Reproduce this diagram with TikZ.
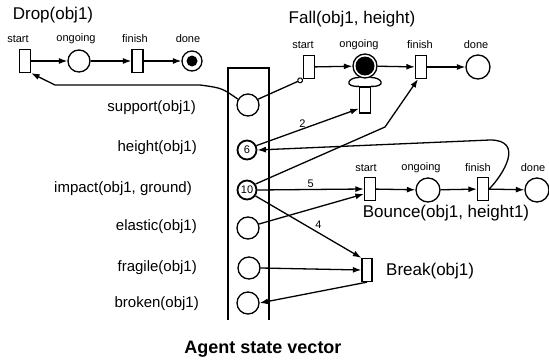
\documentclass[tikz,border=0pt]{standalone}
\usepackage{fontspec}
\setmainfont{Liberation Sans}
\usetikzlibrary{arrows.meta,calc}
\begin{document}
\begin{tikzpicture}[x=1pt,y=-1pt,
  lw/.style={line width=1.3pt},
  trans/.style={draw,lw,minimum width=11pt,minimum height=23pt,inner sep=0pt},
  place/.style={draw,circle,lw,minimum size=22pt,inner sep=0pt},
  bplace/.style={draw,circle,line width=1.8pt,minimum size=19pt,inner sep=0pt,font=\fontsize{11}{12}\selectfont},
  ttl/.style={font=\fontsize{17}{19}\selectfont,inner sep=0pt},
  sml/.style={font=\fontsize{11}{12}\selectfont,inner sep=0pt},
  vlab/.style={font=\fontsize{15}{17}\selectfont,inner sep=0pt,anchor=east},
  lbl/.style={font=\fontsize{11}{12}\selectfont,inner sep=1pt},
  arr/.style={lw,-{Latex[length=8.5pt,width=6pt]}},
  inh/.style={lw,-{Circle[open,length=6pt,width=6pt,line width=1.1pt]}},
  plain/.style={lw}
]
\useasboundingbox (0,0) rectangle (549,364);

% ---------- Drop ----------
\node[ttl] (tdrop) at (53,15) {Drop(obj1)};
\node[sml] (ldstart) at (18,39) {start};
\node[sml] (ldong) at (76,39) {ongoing};
\node[sml] (ldfin) at (135,39) {finish};
\node[sml] (lddone) at (188,39) {done};
\node[trans] (dstart) at (25,61) {};
\node[place] (dong) at (79,61) {};
\node[trans] (dfin) at (137.5,61) {};
\node[place,minimum size=20pt] (ddone) at (192,61) {};
\fill (ddone.center) circle (5.5pt);
\draw[arr] (dstart) -- (dong);
\draw[arr] (dong) -- (dfin);
\draw[arr] (dfin) -- (ddone);

% ---------- Fall ----------
\node[ttl] (tfall) at (352,19) {Fall(obj1, height)};
\node[sml] (lfstart) at (303,45) {start};
\node[sml] (lfong) at (359,45) {ongoing};
\node[sml] (lffin) at (420,45) {finish};
\node[sml] (lfdone) at (476,45) {done};
\node[trans] (fstart) at (309,67) {};
\node[place,minimum size=24pt] (fong) at (365,66) {};
\fill (fong.center) circle (9.5pt);
\node[trans] (ffin) at (421,67) {};
\node[place,minimum size=24pt] (fdone) at (478,67) {};
\node[trans,minimum height=26pt] (frect) at (365,100) {};
\draw[arr] (fstart) -- (fong);
\draw[arr] (fong) -- (ffin);
\draw[arr] (ffin) -- (fdone);
\draw[plain] (fong.245) .. controls (348,77) and (343,87) .. (frect.north west);
\draw[plain] (fong.295) .. controls (382,77) and (387,87) .. (frect.north east);

% ---------- State vector ----------
\draw[plain] (228,320) -- (228,68) -- (269,68) -- (269,320);
\node[place] (sup) at (248,105) {};
\node[bplace] (hgt) at (247,150) {6};
\node[bplace] (imp) at (247,190) {10};
\node[place] (ela) at (248,228) {};
\node[place] (frag) at (249,268) {};
\node[place] (brok) at (248,303) {};
\node[vlab] (lsup) at (196,108) {support(obj1)};
\node[vlab] (lhgt) at (197,148) {height(obj1)};
\node[vlab] (limp) at (192,189) {impact(obj1, ground)};
\node[vlab] (lela) at (197,227) {elastic(obj1)};
\node[vlab] (lfrag) at (197,268) {fragile(obj1)};
\node[vlab] (lbrok) at (199,304) {broken(obj1)};
\node[font=\bfseries\fontsize{18}{20}\selectfont,inner sep=0pt] (asv) at (263,349) {Agent state vector};

% ---------- Bounce ----------
\node[sml] (lbstart) at (366,168) {start};
\node[sml] (lbong) at (421,168) {ongoing};
\node[sml] (lbfin) at (478,168) {finish};
\node[sml] (lbdone) at (533,168) {done};
\node[trans] (bstart) at (370,189) {};
\node[place,minimum size=24pt] (bong) at (428,190) {};
\node[trans] (bfin) at (483,189) {};
\node[place,minimum size=24pt] (bdone) at (537,190) {};
\node[ttl] (tbounce) at (446,213) {Bounce(obj1, height1)};
\draw[arr] (bstart) -- (bong);
\draw[arr] (bong) -- (bfin);
\draw[arr] (bfin) -- (bdone);

% ---------- Break ----------
\node[trans,minimum width=10pt] (brk) at (367,270) {};
\node[ttl,anchor=west] (tbreak) at (386,271) {Break(obj1)};

% ---------- Connections ----------
\draw[arr] (sup.150) .. controls (222,88) .. (200,85) -- (55,85) -- (dstart.south east);
\draw[inh] (sup.30) -- (fstart.south west);
\draw[arr] (hgt.25) -- node[lbl,pos=0.45,above] {2} ($(frect.south west)+(0,-5)$);
\draw[arr] (imp.35) -- (385,127) -- ($(ffin.south)+(-3,0)$);
\draw[arr] (bfin.east) .. controls (503,175) and (525,140) .. (490,140) -- (hgt.east);
\draw[arr] (imp.east) -- node[lbl,pos=0.5,above] {5} (bstart.west);
\draw[arr] (ela.20) -- ($(bstart.west)+(0,5)$);
\draw[arr] (imp.-35) -- node[lbl,pos=0.55,anchor=south west] {4} (brk.north west);
\draw[arr] (frag.east) -- (brk.west);
\draw[arr] (brk.south) -- (brok.east);
\end{tikzpicture}
\end{document}
